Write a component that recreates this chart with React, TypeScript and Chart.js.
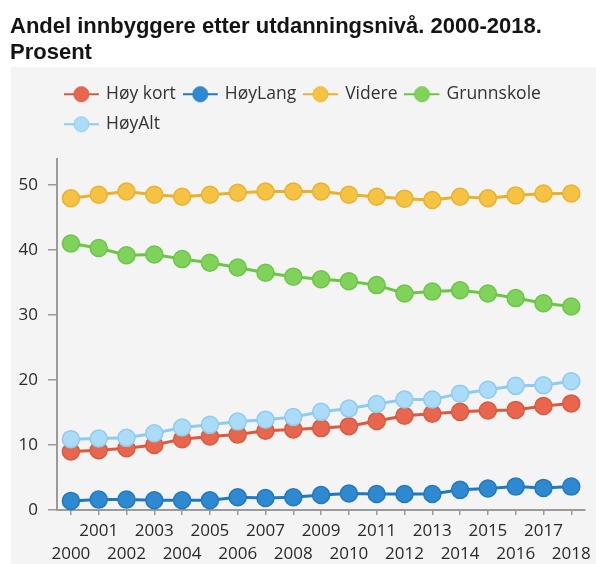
import { useEffect, useRef } from 'react';
import { Chart, registerables } from 'chart.js';

Chart.register(...registerables);

const TITLE_LINES = ['Andel innbyggere etter utdanningsnivå. 2000-2018.', 'Prosent'];

const YEARS = [
  '2000', '2001', '2002', '2003', '2004', '2005', '2006', '2007', '2008', '2009',
  '2010', '2011', '2012', '2013', '2014', '2015', '2016', '2017', '2018',
];

const SERIES_NAMES = ['Høy kort', 'HøyLang', 'Videre', 'Grunnskole', 'HøyAlt'];

const HOY_KORT = [9.0, 9.2, 9.5, 10.0, 10.9, 11.3, 11.6, 12.2, 12.4, 12.6, 12.9, 13.7, 14.5, 14.8, 15.1, 15.3, 15.4, 16.0, 16.4];
const HOY_LANG = [1.4, 1.6, 1.6, 1.5, 1.5, 1.5, 1.95, 1.85, 1.95, 2.3, 2.55, 2.45, 2.45, 2.45, 3.1, 3.3, 3.6, 3.4, 3.6];
const VIDERE = [47.95, 48.5, 49.0, 48.5, 48.2, 48.5, 48.8, 49.0, 49.0, 49.0, 48.5, 48.2, 47.9, 47.7, 48.2, 47.95, 48.4, 48.7, 48.7];
const GRUNNSKOLE = [41.0, 40.3, 39.2, 39.3, 38.6, 38.05, 37.3, 36.5, 35.9, 35.5, 35.2, 34.6, 33.3, 33.6, 33.8, 33.3, 32.6, 31.8, 31.3];
const HOY_ALT = [10.9, 11.0, 11.1, 11.8, 12.7, 13.1, 13.6, 13.9, 14.3, 15.1, 15.6, 16.3, 17.0, 17.0, 17.9, 18.5, 19.1, 19.2, 19.8];

const SERIES_VALUES = [HOY_KORT, HOY_LANG, VIDERE, GRUNNSKOLE, HOY_ALT];

const Y_MIN = 0;
const Y_MAX = 54;
const Y_STEP = 10;

const FILL_COLORS = ['#e8664d', '#2e89d0', '#f5c243', '#80d35a', '#aadbf7'];
const BORDER_COLORS = ['#d95a40', '#2179bf', '#e8b22f', '#6ec447', '#8fcbef'];
const DRAW_ORDER = [1, 1, 1, 1, 0];

const TICK_FONT = { family: "'Open Sans', 'Noto Sans', sans-serif", size: 17, lineHeight: 23 / 17 };

function makeMarker(fill: string, border: string): HTMLCanvasElement {
  const c = document.createElement('canvas');
  c.width = 39;
  c.height = 18;
  const ctx = c.getContext('2d')!;
  ctx.strokeStyle = border;
  ctx.lineWidth = 2;
  ctx.beginPath();
  ctx.moveTo(0, 9);
  ctx.lineTo(35, 9);
  ctx.stroke();
  ctx.beginPath();
  ctx.arc(17.5, 9, 7.5, 0, Math.PI * 2);
  ctx.fillStyle = fill;
  ctx.fill();
  ctx.lineWidth = 1;
  ctx.stroke();
  return c;
}

const backgroundPlugin = {
  id: 'panelBackground',
  beforeDraw(chart: any) {
    const { ctx, width, height } = chart;
    ctx.save();
    ctx.fillStyle = '#ffffff';
    ctx.fillRect(0, 0, width, height);
    ctx.fillStyle = '#f4f4f4';
    ctx.fillRect(11, 67, width - 11, height - 67);
    ctx.restore();
  },
};

export default function App() {
  const canvasRef = useRef<HTMLCanvasElement | null>(null);

  useEffect(() => {
    const canvas = canvasRef.current;
    if (!canvas) return;
    const markers = FILL_COLORS.map((f, i) => makeMarker(f, BORDER_COLORS[i]));

    const chart = new Chart(canvas, {
      type: 'line',
      data: {
        labels: YEARS,
        datasets: SERIES_NAMES.map((name, i) => ({
          label: name,
          data: SERIES_VALUES[i],
          order: DRAW_ORDER[i],
          borderColor: BORDER_COLORS[i],
          backgroundColor: FILL_COLORS[i],
          pointBackgroundColor: FILL_COLORS[i],
          pointBorderColor: BORDER_COLORS[i],
          borderWidth: 3,
          pointRadius: 8.5,
          pointHoverRadius: 8.5,
          pointBorderWidth: 1.5,
          tension: 0,
          fill: false,
          clip: false as any,
        })),
      },
      options: {
        animation: false,
        responsive: false,
        maintainAspectRatio: false,
        layout: { padding: { left: 10, right: 5, top: 0, bottom: 0 } },
        plugins: {
          title: {
            display: true,
            text: TITLE_LINES,
            align: 'start',
            color: '#141414',
            font: { family: "'Liberation Sans', Arial, sans-serif", size: 22, weight: 'bold', lineHeight: 26 / 22 },
            padding: { top: 14, bottom: 7 },
          },
          subtitle: {
            display: true,
            text: '',
            weight: 500,
            font: { size: 1, lineHeight: 1 },
            padding: { top: 0, bottom: 15 },
          } as any,
          legend: {
            display: true,
            position: 'top',
            align: 'start',
            fullSize: false,
            labels: {
              usePointStyle: true,
              pointStyleWidth: 27.75,
              padding: 12.5,
              color: '#333333',
              font: { family: "'Open Sans', 'Noto Sans', sans-serif", size: 17.5 },
              generateLabels: (ch: any) => {
                const items = (Chart.defaults.plugins.legend.labels as any).generateLabels(ch);
                return items
                  .map((it: any) => ({ ...it, pointStyle: markers[it.datasetIndex] }))
                  .sort((a: any, b: any) => a.datasetIndex - b.datasetIndex);
              },
            },
          },
          tooltip: { enabled: false },
        },
        scales: {
          x: {
            type: 'category',
            offset: true,
            ticks: {
              autoSkip: false,
              maxRotation: 0,
              minRotation: 0,
              padding: 5,
              color: '#2a2a2a',
              font: TICK_FONT,
              callback: function (this: any, value: any, index: number) {
                const l = this.getLabelForValue(value);
                return index % 2 === 0 ? ['', l] : [l];
              },
            },
            grid: { drawOnChartArea: false, tickLength: 5, color: '#9a9a9a', lineWidth: 1.5, offset: false },
            border: { color: '#9a9a9a', width: 2 },
            afterFit: (s: any) => {
              s.height = 54;
            },
          },
          y: {
            min: Y_MIN,
            max: Y_MAX,
            bounds: 'data',
            ticks: {
              stepSize: Y_STEP,
              padding: 10,
              color: '#2a2a2a',
              font: TICK_FONT,
            },
            afterBuildTicks: (s: any) => {
              s.ticks = s.ticks.filter((t: any) => t.value % Y_STEP === 0);
            },
            grid: { drawOnChartArea: false, tickLength: 9, color: '#9a9a9a', lineWidth: 1.5 },
            border: { color: '#9a9a9a', width: 2 },
            afterFit: (s: any) => {
              s.width = 47;
            },
          },
        },
      },
      plugins: [backgroundPlugin],
    } as any);

    return () => {
      chart.destroy();
    };
  }, []);

  return (
    <div style={{ position: 'absolute', left: 0, top: 0, width: 596, height: 564, overflow: 'hidden' }}>
      <canvas ref={canvasRef} width={596} height={564} style={{ display: 'block', width: 596, height: 564 }} />
    </div>
  );
}
